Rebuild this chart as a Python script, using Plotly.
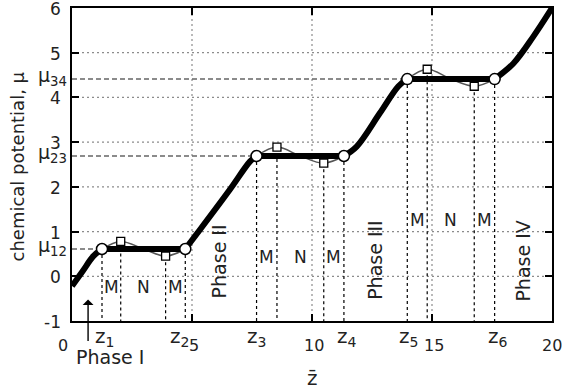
import plotly.graph_objects as go

# plateau (coexistence) points
z_eq = [1.25, 4.72, 7.69, 11.33, 13.97, 17.61]
mu_eq = [0.61, 2.69, 4.41]
mu_names = ["μ<sub>12</sub>", "μ<sub>23</sub>", "μ<sub>34</sub>"]
z_names = ["z<sub>1</sub>", "z<sub>2</sub>", "z<sub>3</sub>",
           "z<sub>4</sub>", "z<sub>5</sub>", "z<sub>6</sub>"]

# spinodal points on the loops
z_sp = [2.03, 3.90, 8.54, 10.49, 14.80, 16.76]
mu_sp = [0.78, 0.45, 2.89, 2.53, 4.63, 4.25]

# where each loop crosses its plateau
z_mid = [2.99, 9.51, 15.79]

# stable single-phase branches
branch_x = [[0.0, 0.45, 0.89, 1.25],
            [4.72, 5.33, 6.58, 7.42, 7.69],
            [11.33, 11.86, 12.83, 13.60, 13.97],
            [17.61, 18.39, 19.22, 20.0]]
branch_y = [[-0.22, 0.12, 0.45, 0.61],
            [0.61, 1.04, 1.94, 2.57, 2.69],
            [2.69, 2.90, 3.65, 4.25, 4.41],
            [4.41, 4.76, 5.36, 6.0]]

phase_names = ["Phase II", "Phase III", "Phase IV"]
phase_x = [6.12, 12.63, 18.79]
phase_y = [0.33, 0.37, 0.35]

region_names = ["M", "N", "M"]
region_y = [-0.23, 0.44, 1.27]

x_ticks = [0, 5, 10, 15, 20]
y_ticks = [-1, 0, 1, 2, 3, 4, 5, 6]

FONT = "DejaVu Sans"
TXT = "#222"
PLOT_W = 480  # plot-area width in px, used for paper offsets

# small horizontal nudges (px) for the z labels so z2 clears the "5"
z_label_nudge = [2, -6, 0, 3, 1, 3]

X0, X1 = x_ticks[0], x_ticks[-1]
Y0, Y1 = y_ticks[0], y_ticks[-1]

fig = go.Figure()

# dotted grid at the inner ticks
gx, gy = [], []
for t in x_ticks[1:-1]:
    gx += [t, t, None]
    gy += [Y0, Y1, None]
for t in y_ticks[1:-1]:
    gx += [X0, X1, None]
    gy += [t, t, None]
fig.add_trace(go.Scatter(x=gx, y=gy, mode="lines",
                         line=dict(color="#8c8c8c", width=1.2, dash="2px,3px"),
                         hoverinfo="skip", showlegend=False))

# dashed guides from the points down to the axis
vx, vy = [], []
for k in range(6):
    for xx, yy in ((z_eq[k], mu_eq[k // 2]), (z_sp[k], mu_sp[k])):
        vx += [xx, xx, None]
        vy += [yy, Y0, None]
fig.add_trace(go.Scatter(x=vx, y=vy, mode="lines",
                         line=dict(color="black", width=1.2, dash="3px,3px"),
                         hoverinfo="skip", showlegend=False))

# dashed guides from the mu axis to the plateaus
hx, hy = [], []
for k in range(3):
    hx += [X0, z_eq[2 * k], None]
    hy += [mu_eq[k], mu_eq[k], None]
fig.add_trace(go.Scatter(x=hx, y=hy, mode="lines",
                         line=dict(color="#666", width=1.5, dash="5px,3px"),
                         hoverinfo="skip", showlegend=False))

# van der Waals loops
for k in range(3):
    lx = [z_eq[2 * k], z_sp[2 * k], z_mid[k], z_sp[2 * k + 1], z_eq[2 * k + 1]]
    ly = [mu_eq[k], mu_sp[2 * k], mu_eq[k], mu_sp[2 * k + 1], mu_eq[k]]
    fig.add_trace(go.Scatter(x=lx, y=ly, mode="lines",
                             line=dict(color="#555", width=1.5, shape="spline"),
                             hoverinfo="skip", showlegend=False))

# stable branches and plateaus
for bx, by in zip(branch_x, branch_y):
    fig.add_trace(go.Scatter(x=bx, y=by, mode="lines",
                             line=dict(color="black", width=6, shape="spline"),
                             hoverinfo="skip", showlegend=False))
for k in range(3):
    fig.add_trace(go.Scatter(x=[z_eq[2 * k], z_eq[2 * k + 1]], y=[mu_eq[k], mu_eq[k]],
                             mode="lines", line=dict(color="black", width=6),
                             hoverinfo="skip", showlegend=False))

# markers
fig.add_trace(go.Scatter(x=z_sp, y=mu_sp, mode="markers",
                         marker=dict(symbol="square", size=8, color="white",
                                     line=dict(color="black", width=1.3)),
                         hoverinfo="skip", showlegend=False))
fig.add_trace(go.Scatter(x=z_eq, y=[mu_eq[k // 2] for k in range(6)], mode="markers",
                         marker=dict(symbol="circle", size=11, color="white",
                                     line=dict(color="black", width=1.5)),
                         hoverinfo="skip", showlegend=False))

ann = []
# numeric tick labels
for t in x_ticks:
    first, last = t == x_ticks[0], t == x_ticks[-1]
    ann.append(dict(x=t, y=0, yref="paper", text=str(t), showarrow=False,
                    xanchor="right" if first else "center", yanchor="middle",
                    xshift=-2 if first else (0 if last else 2), yshift=-24,
                    font=dict(family=FONT, size=16, color=TXT)))
for t in y_ticks:
    ann.append(dict(x=0, xref="paper", y=t, text=str(t), showarrow=False,
                    xanchor="right", yanchor="middle", xshift=-9, yshift=-1,
                    font=dict(family=FONT, size=17, color=TXT)))
# plateau labels on the mu axis
for name, m in zip(mu_names, mu_eq):
    ann.append(dict(x=0, xref="paper", y=m, yref="y", text=name, showarrow=False,
                    xanchor="right", yanchor="middle", xshift=-3, yshift=3,
                    font=dict(family=FONT, size=19, color=TXT)))
# z labels under the axis
for name, z, dx in zip(z_names, z_eq, z_label_nudge):
    ann.append(dict(x=z, xref="x", y=0, yref="paper", text=name, showarrow=False,
                    xanchor="center", yanchor="top", xshift=dx, yshift=-1,
                    font=dict(family=FONT, size=20, color=TXT)))
# M / N region labels
for k in range(3):
    edges = [z_eq[2 * k], z_sp[2 * k], z_sp[2 * k + 1], z_eq[2 * k + 1]]
    for j, nm in enumerate(region_names):
        ann.append(dict(x=(edges[j] + edges[j + 1]) / 2, y=region_y[k], text=nm,
                        showarrow=False, xanchor="center", yanchor="middle",
                        font=dict(family=FONT, size=17, color=TXT)))
# phase labels
for nm, px, py in zip(phase_names, phase_x, phase_y):
    ann.append(dict(x=px, y=py, text=nm, textangle=-90, showarrow=False,
                    xanchor="center", yanchor="middle",
                    font=dict(family=FONT, size=19, color=TXT)))
# Phase I with arrow
ann.append(dict(x=0.67, y=-0.52, ax=0.67, ay=-1.48, axref="x", ayref="y",
                text="", showarrow=True, arrowhead=1, arrowsize=1.3,
                arrowwidth=1.4, arrowcolor="black"))
ann.append(dict(x=1.58, y=0, yref="paper", text="Phase I", showarrow=False,
                xanchor="center", yanchor="middle", yshift=-36,
                font=dict(family=FONT, size=19, color=TXT)))
# axis titles
ann.append(dict(x=10, y=0, yref="paper", text="z\u0304", showarrow=False,
                xanchor="center", yanchor="middle", yshift=-57,
                font=dict(family=FONT, size=20, color=TXT)))
ann.append(dict(x=-55 / PLOT_W, xref="paper", y=0.5, yref="paper",
                text="chemical potential, μ", textangle=-90, showarrow=False,
                xanchor="center", yanchor="middle", yshift=-2,
                font=dict(family=FONT, size=18, color=TXT)))

axis_common = dict(ticks="inside", ticklen=7, tickwidth=1.5, tickcolor="black",
                   showline=True, linewidth=2, linecolor="black", mirror="ticks",
                   showgrid=False, zeroline=False, automargin=False,
                   showticklabels=False)

fig.update_layout(
    width=563, height=392,
    margin=dict(l=72, r=11, t=8, b=71),
    paper_bgcolor="white", plot_bgcolor="white",
    annotations=ann,
    xaxis=dict(range=[X0, X1], tickvals=x_ticks, **axis_common),
    yaxis=dict(range=[Y0, Y1], tickvals=y_ticks, **axis_common),
)

fig.write_html("out.html")
